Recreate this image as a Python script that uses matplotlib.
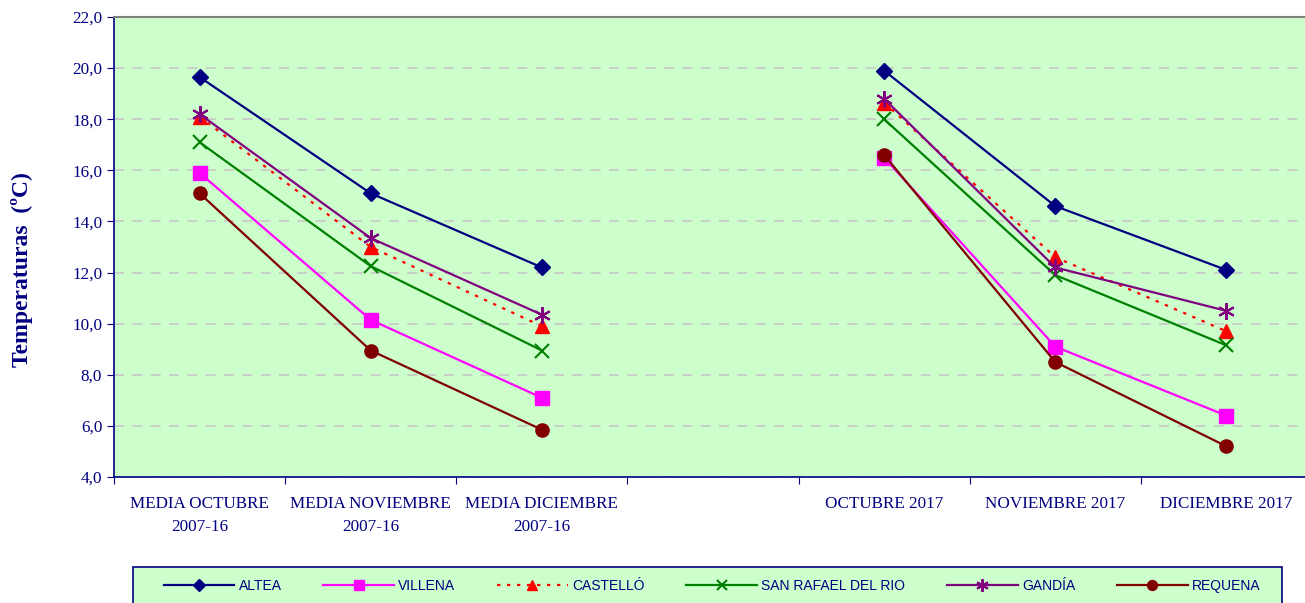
"""Temperaturas medias oct-dic: media 2007-16 frente a 2017."""
import numpy as np
import matplotlib
matplotlib.use("Agg")
import matplotlib.pyplot as plt
from matplotlib.patches import Rectangle
from matplotlib.ticker import FuncFormatter, FixedLocator

# categories (index 3 is an empty slot between both groups)
categories = ["MEDIA OCTUBRE\n2007-16", "MEDIA NOVIEMBRE\n2007-16", "MEDIA DICIEMBRE\n2007-16", "",
              "OCTUBRE 2017", "NOVIEMBRE 2017", "DICIEMBRE 2017"]
nan = np.nan
altea = [19.65, 15.1, 12.2, nan, 19.9, 14.6, 12.1]
villena = [15.9, 10.15, 7.1, nan, 16.5, 9.1, 6.4]
castello = [18.1, 13.0, 9.9, nan, 18.65, 12.6, 9.7]
san_rafael = [17.1, 12.25, 8.95, nan, 18.0, 11.9, 9.15]
gandia = [18.2, 13.35, 10.35, nan, 18.8, 12.2, 10.5]
requena = [15.1, 8.95, 5.85, nan, 16.6, 8.5, 5.2]

navy = "#000080"
W, H = 1305, 603
fig = plt.figure(figsize=(W / 100, H / 100), dpi=100)
ax = fig.add_axes([114 / W, 126 / H, 1198 / W, 460 / H])
ax.set_facecolor("#CCFFCC")

x = np.arange(len(categories))
lw = 1.6
ax.plot(x, altea, color=navy, lw=lw, marker="D", ms=8, mec=navy, label="ALTEA")
ax.plot(x, villena, color="#FF00FF", lw=lw, marker="s", ms=10, mec="#FF00FF", label="VILLENA")
ax.plot(x, castello, color="#FF0000", lw=lw, ls=(0, (1.5, 3)), marker="^", ms=10, mec="#FF0000", label="CASTELLÓ")
ax.plot(x, san_rafael, color="#008000", lw=lw, marker="x", ms=10, mew=1.5, label="SAN RAFAEL DEL RIO")
ax.plot(x, gandia, color="#800080", lw=lw, marker=(6, 2, 0), ms=12, mew=1.5, label="GANDÍA")
ax.plot(x, requena, color="#800000", lw=lw, marker="o", ms=9.5, mec="#800000", label="REQUENA")

ax.set_xlim(-0.5, 6.5)
ax.set_ylim(4, 22)
ax.set_yticks(np.arange(4, 22.1, 2))
ax.yaxis.set_major_formatter(FuncFormatter(lambda v, p: f"{v:.1f}".replace(".", ",")))
ax.grid(axis="y", color="#C8C8C8", ls=(0, (6, 5)), lw=1.2)
ax.set_axisbelow(True)

# ticks at category boundaries, labels at centres
ax.xaxis.set_major_locator(FixedLocator(np.arange(-0.5, 7, 1)))
ax.xaxis.set_major_formatter(FuncFormatter(lambda v, p: ""))
ax.xaxis.set_minor_locator(FixedLocator(x))
ax.set_xticklabels(categories, minor=True)
ax.tick_params(axis="x", which="minor", length=0, pad=14)
ax.tick_params(axis="both", which="major", length=5, color=navy, direction="out")
for lab in ax.get_xticklabels(minor=True) + ax.get_yticklabels():
    lab.set_family("Liberation Serif")
    lab.set_fontsize(12.3)
    lab.set_color(navy)
    lab.set_linespacing(1.55)

for s in ["left", "bottom"]:
    ax.spines[s].set_color(navy)
    ax.spines[s].set_linewidth(1.2)
ax.spines["top"].set_color("#808080")
ax.spines["top"].set_linewidth(1.5)
ax.spines["right"].set_visible(False)

fig.text(22 / W, 1 - 270 / H, "Temperaturas  (ºC)", rotation=90, ha="center", va="center",
         family="Liberation Serif", fontsize=17, fontweight="bold", color=navy)

# legend frame, cut off by the bottom edge as in the original
fig.patches.append(Rectangle((133 / W, -10 / H), 1149 / W, (36 + 10) / H, transform=fig.transFigure,
                             facecolor="#CCFFCC", edgecolor=navy, lw=1.2, zorder=0))
leg = fig.legend(loc="center", bbox_to_anchor=(712 / W, 1 - 586 / H), ncol=6, frameon=False,
                 borderaxespad=0, borderpad=0, handlelength=5.1, handletextpad=0.3, columnspacing=3.0,
                 prop={"family": "Liberation Sans", "size": 10})
for t in leg.get_texts():
    t.set_color(navy)
for h in leg.legend_handles:
    h.set_markersize(h.get_markersize() * 0.75)

fig.savefig("out.png", dpi=100)
